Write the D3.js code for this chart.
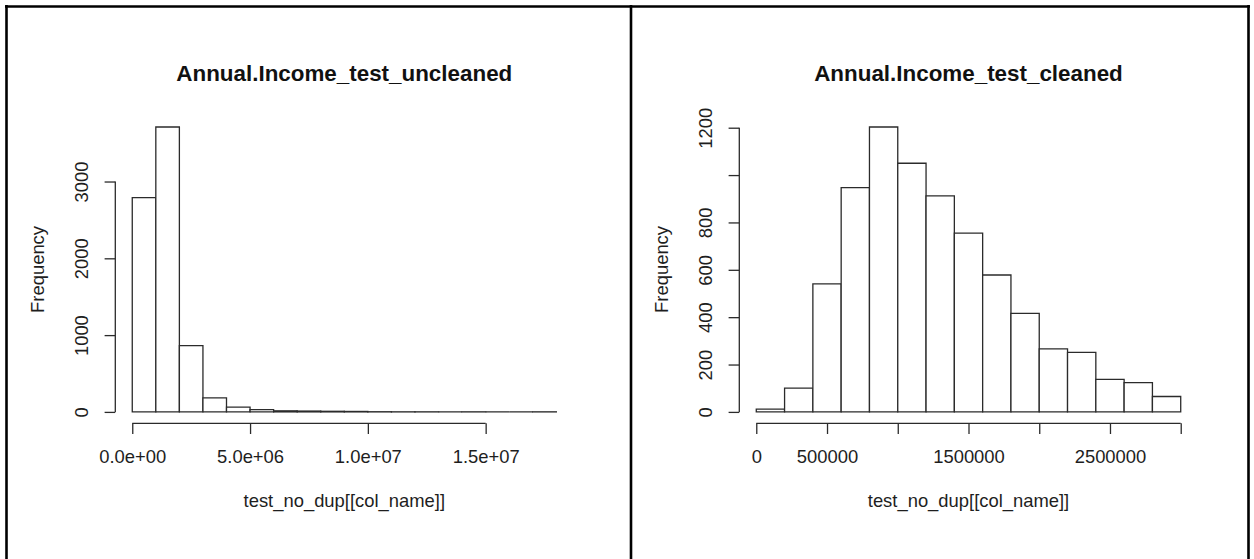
<!DOCTYPE html>
<html lang="en">
<head>
  <meta charset="UTF-8">
  <title>Annual.Income histograms</title>
  <script src="https://cdnjs.cloudflare.com/ajax/libs/d3/7.8.5/d3.min.js"></script>
  <style>
    body { margin: 0; background: #fff; }
    svg text { font-family: "Liberation Sans", Arial, sans-serif; }
  </style>
</head>
<body>
  <svg id="chart" width="1254" height="559"></svg>
  <script>
    // ---- left histogram (uncleaned) ----
    var leftTitle = "Annual.Income_test_uncleaned"
    var leftBreaks = [0, 1e6, 2e6, 3e6, 4e6, 5e6, 6e6, 7e6, 8e6, 9e6, 1e7, 1.1e7, 1.2e7, 1.3e7, 1.4e7, 1.5e7, 1.6e7, 1.7e7, 1.8e7]
    var leftCounts = [2790, 3710, 864, 182, 61, 30, 14, 11, 8, 6, 2, 1, 1, 0, 1, 0, 0, 1]
    var leftXTicks = [0, 5e6, 1e7, 1.5e7]
    var leftXTickLabels = ["0.0e+00", "5.0e+06", "1.0e+07", "1.5e+07"]
    var leftYTicks = [0, 1000, 2000, 3000]
    var leftYTickLabels = ["0", "1000", "2000", "3000"]

    // ---- right histogram (cleaned) ----
    var rightTitle = "Annual.Income_test_cleaned"
    var rightBreaks = [0, 200000, 400000, 600000, 800000, 1000000, 1200000, 1400000, 1600000, 1800000, 2000000, 2200000, 2400000, 2600000, 2800000, 3000000]
    var rightCounts = [12, 100, 541, 947, 1203, 1050, 912, 755, 578, 416, 266, 251, 137, 124, 65]
    var rightXTicks = [0, 500000, 1000000, 1500000, 2000000, 2500000, 3000000]
    var rightXTickLabels = ["0", "500000", "", "1500000", "", "2500000", ""]
    var rightYTicks = [0, 200, 400, 600, 800, 1000, 1200]
    var rightYTickLabels = ["0", "200", "400", "600", "800", "", "1200"]

    var xTitle = "test_no_dup[[col_name]]"
    var yTitle = "Frequency"

    var svg = d3.select("#chart")
    var ink = "#2b2b2b"
    var axisFont = 18.4
    var tick = 10.7

    // table borders round the two pictures
    svg.append("line").attr("x1", 5).attr("x2", 1250).attr("y1", 6.5).attr("y2", 6.5)
      .style("stroke", "#000").style("stroke-width", 2.6)
    svg.append("line").attr("x1", 6.5).attr("x2", 6.5).attr("y1", 5).attr("y2", 562)
      .style("stroke", "#000").style("stroke-width", 2.6)
    svg.append("line").attr("x1", 631).attr("x2", 631).attr("y1", 5).attr("y2", 562)
      .style("stroke", "#000").style("stroke-width", 2.6)
    svg.append("line").attr("x1", 1248.5).attr("x2", 1248.5).attr("y1", 5).attr("y2", 562)
      .style("stroke", "#000").style("stroke-width", 2.6)

    function drawHist(o) {
      var maxC = d3.max(o.counts)
      var lo = o.breaks[0], hi = o.breaks[o.breaks.length - 1]
      // R style 4% padding on both axes
      var x = d3.scaleLinear()
        .domain([lo - 0.04 * (hi - lo), hi + 0.04 * (hi - lo)])
        .range([o.left, o.right])
      var y = d3.scaleLinear()
        .domain([-0.04 * maxC, 1.04 * maxC])
        .range([o.bottom, o.top])

      var g = svg.append("g")

      // bars as closed paths so empty bins still show as a line on the baseline
      g.append("g")
        .selectAll("path")
        .data(o.counts)
        .enter()
        .append("path")
        .attr("d", function (d, i) {
          var x0 = x(o.breaks[i]), x1 = x(o.breaks[i + 1])
          return "M" + x0 + "," + y(0) + "V" + y(d) + "H" + x1 + "V" + y(0) + "Z"
        })
        .style("fill", "#fff")
        .style("stroke", ink)
        .style("stroke-width", 1.3)

      // x axis
      var xa = g.append("g")
        .attr("transform", "translate(0," + o.bottom + ")")
        .call(d3.axisBottom(x).tickValues(o.xTicks).tickSize(tick).tickSizeOuter(0)
          .tickFormat(function (d, i) { return o.xTickLabels[i] }))
      xa.select(".domain").remove()
      xa.append("line")
        .attr("x1", x(o.xTicks[0])).attr("x2", x(o.xTicks[o.xTicks.length - 1]))
        .style("stroke", ink).style("stroke-width", 1.3)
      xa.selectAll(".tick line").style("stroke", ink).style("stroke-width", 1.3)
      xa.selectAll(".tick text")
        .attr("y", 33.7).attr("dy", "0.35em")
        .style("font-size", axisFont + "px").style("fill", "#1e1e1e")
        .style("font-family", "Liberation Sans, Arial, sans-serif")

      // y axis
      var ya = g.append("g")
        .attr("transform", "translate(" + o.left + ",0)")
        .call(d3.axisLeft(y).tickValues(o.yTicks).tickSize(tick).tickSizeOuter(0)
          .tickFormat(function (d, i) { return o.yTickLabels[i] }))
      ya.select(".domain").remove()
      ya.append("line")
        .attr("y1", y(o.yTicks[0])).attr("y2", y(o.yTicks[o.yTicks.length - 1]))
        .style("stroke", ink).style("stroke-width", 1.3)
      ya.selectAll(".tick line").style("stroke", ink).style("stroke-width", 1.3)
      ya.selectAll(".tick text")
        .attr("transform", "rotate(-90)")
        .attr("x", 0).attr("y", -33.5).attr("dy", "0.35em")
        .attr("text-anchor", "middle")
        .style("font-size", axisFont + "px").style("fill", "#1e1e1e")
        .style("font-family", "Liberation Sans, Arial, sans-serif")

      var cx = (o.left + o.right) / 2
      // main title
      g.append("text")
        .attr("x", cx).attr("y", 81)
        .attr("text-anchor", "middle")
        .style("font-size", "22.4px").style("font-weight", "bold").style("fill", "#111")
        .text(o.title)

      // x title
      g.append("text")
        .attr("x", cx).attr("y", 501).attr("dy", "0.35em")
        .attr("text-anchor", "middle")
        .style("font-size", axisFont + "px").style("fill", "#1e1e1e")
        .text(xTitle)

      // y title
      g.append("text")
        .attr("transform", "translate(" + (o.left - 78) + "," + ((o.top + o.bottom) / 2) + ")rotate(-90)")
        .attr("dy", "0.35em")
        .attr("text-anchor", "middle")
        .style("font-size", axisFont + "px").style("fill", "#1e1e1e")
        .text(yTitle)
    }

    drawHist({
      title: leftTitle, breaks: leftBreaks, counts: leftCounts,
      xTicks: leftXTicks, xTickLabels: leftXTickLabels,
      yTicks: leftYTicks, yTickLabels: leftYTickLabels,
      left: 115.3, right: 573.3, top: 115.6, bottom: 423.3
    })

    drawHist({
      title: rightTitle, breaks: rightBreaks, counts: rightCounts,
      xTicks: rightXTicks, xTickLabels: rightXTickLabels,
      yTicks: rightYTicks, yTickLabels: rightYTickLabels,
      left: 739.3, right: 1197.7, top: 115.6, bottom: 423.3
    })
  </script>
</body>
</html>
